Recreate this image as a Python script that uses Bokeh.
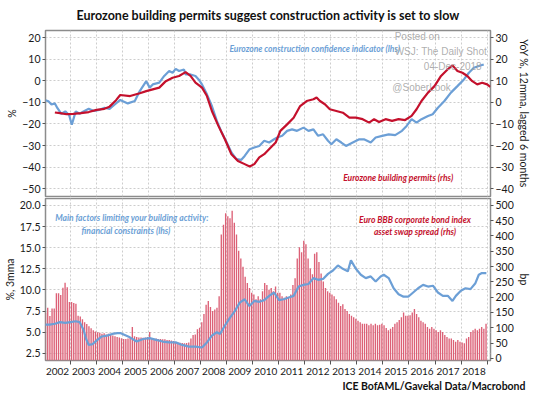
from bokeh.plotting import figure
from bokeh.layouts import column
from bokeh.models import (Range1d, LinearAxis, FixedTicker, CustomJSTickFormatter,
                          Label, NumeralTickFormatter, Title)
from bokeh.embed import file_html
from bokeh.resources import INLINE

# ---------------- data ----------------
year_labels = list(range(2002, 2019))
year_bounds = list(range(2002, 2020))

# Eurozone construction confidence indicator (lhs, %)
conf_dates = [2002.04, 2002.15, 2002.27, 2002.40, 2002.50, 2002.65, 2002.80, 2002.95, 2003.05,
              2003.20, 2003.35, 2003.50, 2003.70, 2003.90, 2004.10, 2004.30, 2004.50, 2004.70,
              2004.91, 2005.20, 2005.47, 2005.66, 2005.91, 2006.04, 2006.16, 2006.41, 2006.60,
              2006.79, 2006.92, 2007.04, 2007.17, 2007.36, 2007.42, 2007.61, 2007.80, 2007.92,
              2008.05, 2008.24, 2008.43, 2008.62, 2008.81, 2009.00, 2009.18, 2009.37, 2009.56,
              2009.69, 2009.88, 2010.06, 2010.25, 2010.44, 2010.63, 2010.82, 2010.94, 2011.13,
              2011.32, 2011.51, 2011.70, 2011.95, 2012.14, 2012.33, 2012.51, 2012.70, 2012.89,
              2013.02, 2013.21, 2013.40, 2013.58, 2013.84, 2014.09, 2014.27, 2014.53, 2014.72,
              2014.97, 2015.22, 2015.47, 2015.73, 2015.91, 2016.10, 2016.29, 2016.48, 2016.73,
              2016.91, 2017.11, 2017.36, 2017.61, 2017.86, 2018.11, 2018.30, 2018.49, 2018.68,
              2018.87]
conf_vals = [-9.0, -9.5, -11.0, -10.5, -12.7, -15.3, -14.2, -16.0, -20.4,
             -14.2, -15.3, -14.2, -13.0, -14.0, -13.5, -12.5, -13.0, -11.0,
             -8.9, -10.5, -9.4, -4.8, -0.2, -3.2, -1.7, -0.9, 2.2,
             4.5, 3.7, 5.5, 4.5, 5.2, 2.9, 2.9, 2.2, 0.6,
             -1.7, -6.3, -11.7, -18.6, -24.0, -28.6, -33.2, -36.3, -36.6,
             -34.8, -31.7, -30.9, -30.2, -27.8, -28.6, -27.1, -26.3, -25.5,
             -23.2, -22.5, -23.2, -21.7, -23.2, -22.5, -25.5, -24.8, -27.8,
             -29.4, -27.1, -28.6, -30.2, -28.6, -27.1, -27.1, -28.6, -26.3,
             -25.5, -24.8, -25.2, -23.2, -20.9, -17.8, -19.4, -17.8, -16.3,
             -15.5, -12.5, -9.4, -5.5, -2.5, 0.6, 3.7, 6.0, 6.8,
             7.5]

# Eurozone building permits (rhs, YoY %, 12mma, lagged 6 months)
perm_dates = [2002.40, 2002.60, 2002.85, 2003.10, 2003.40, 2003.70, 2004.00, 2004.30, 2004.50,
              2004.75, 2004.91, 2005.29, 2005.66, 2005.91, 2006.16, 2006.41, 2006.66, 2006.92,
              2007.17, 2007.42, 2007.61, 2007.80, 2008.05, 2008.24, 2008.43, 2008.68, 2008.93,
              2009.18, 2009.43, 2009.69, 2009.88, 2010.06, 2010.25, 2010.44, 2010.69, 2010.88,
              2011.06, 2011.32, 2011.57, 2011.82, 2012.07, 2012.33, 2012.45, 2012.58, 2012.77,
              2012.96, 2013.21, 2013.46, 2013.71, 2013.96, 2014.22, 2014.47, 2014.66, 2014.85,
              2015.10, 2015.35, 2015.60, 2015.85, 2016.10, 2016.29, 2016.48, 2016.73, 2016.98,
              2017.23, 2017.48, 2017.67, 2017.86, 2018.05, 2018.24, 2018.43, 2018.62, 2018.81,
              2019.00, 2019.12]
perm_vals = [-4.7, -5.0, -5.5, -5.3, -5.0, -4.5, -3.5, -3.0, -2.0,
             1.0, 3.4, 2.9, 4.2, 5.2, 6.0, 6.8, 9.8, 11.4,
             12.2, 14.0, 12.2, 9.1, 6.8, 2.9, -4.0, -10.9, -17.1,
             -24.0, -27.1, -28.6, -29.7, -28.6, -25.5, -24.0, -20.9, -18.6,
             -13.2, -10.2, -7.1, -1.7, 0.6, 1.4, 2.2, 0.6, -0.9,
             -3.2, -4.0, -4.8, -7.1, -7.1, -7.8, -9.4, -7.8, -9.1,
             -7.8, -8.6, -7.8, -8.2, -6.3, -3.2, 0.6, 4.5, 7.5,
             12.2, 15.2, 17.1, 14.5, 13.7, 12.2, 9.8, 8.3, 9.1,
             8.3, 7.2]

# Euro BBB corporate bond index asset swap spread (rhs, bp), monthly Jan 2002 - Dec 2018
spread_2002 = [149, 165, 138, 163, 163, 213, 213, 207, 231, 247, 232, 184]
spread_2003 = [184, 181, 178, 139, 137, 128, 118, 112, 105, 98, 92, 88]
spread_2004 = [85, 84, 80, 82, 78, 80, 76, 75, 72, 70, 68, 66]
spread_2005 = [63, 63, 65, 70, 102, 72, 70, 68, 68, 67, 68, 70]
spread_2006 = [86, 66, 64, 65, 63, 63, 62, 62, 60, 60, 58, 57]
spread_2007 = [53, 52, 51, 50, 49, 50, 52, 65, 76, 78, 95, 100]
spread_2008 = [118, 145, 175, 187, 168, 155, 160, 165, 203, 405, 437, 474]
spread_2009 = [464, 458, 482, 443, 405, 352, 326, 299, 267, 246, 230, 214]
spread_2010 = [209, 193, 203, 193, 219, 246, 240, 224, 230, 219, 235, 214]
spread_2011 = [214, 203, 198, 203, 198, 209, 240, 262, 326, 363, 347, 384]
spread_2012 = [373, 326, 294, 275, 342, 347, 315, 277, 251, 230, 219, 214]
spread_2013 = [209, 203, 193, 182, 171, 177, 161, 155, 145, 139, 134, 129]
spread_2014 = [123, 118, 113, 113, 113, 108, 113, 108, 113, 108, 110, 113]
spread_2015 = [108, 99, 92, 97, 102, 113, 118, 125, 134, 150, 139, 139]
spread_2016 = [141, 150, 161, 145, 134, 123, 118, 113, 102, 97, 102, 97]
spread_2017 = [92, 86, 92, 86, 76, 70, 65, 65, 60, 54, 60, 54]
spread_2018 = [52, 49, 65, 70, 86, 92, 97, 92, 97, 102, 97, 113]

# Main factors limiting building activity: financial constraints (lhs, %, 3mma)
fin_dates = [2002.00, 2002.20, 2002.40, 2002.60, 2002.80, 2003.00, 2003.20, 2003.35, 2003.50,
             2003.60, 2003.70, 2003.85, 2004.00, 2004.20, 2004.40, 2004.60, 2004.80, 2004.91,
             2005.28, 2005.54, 2005.79, 2006.04, 2006.29, 2006.54, 2006.79, 2007.04, 2007.29,
             2007.55, 2007.80, 2008.05, 2008.24, 2008.43, 2008.62, 2008.74, 2008.93, 2009.12,
             2009.31, 2009.50, 2009.69, 2009.87, 2010.06, 2010.25, 2010.44, 2010.63, 2010.82,
             2011.01, 2011.19, 2011.38, 2011.57, 2011.76, 2011.95, 2012.14, 2012.33, 2012.51,
             2012.70, 2012.89, 2013.08, 2013.27, 2013.46, 2013.65, 2013.77, 2013.96, 2014.15,
             2014.34, 2014.53, 2014.72, 2014.91, 2015.03, 2015.22, 2015.41, 2015.60, 2015.79,
             2015.97, 2016.16, 2016.35, 2016.54, 2016.73, 2016.92, 2017.11, 2017.30, 2017.49,
             2017.67, 2017.80, 2017.99, 2018.17, 2018.36, 2018.55, 2018.68, 2018.80, 2018.97]
fin_vals = [5.9, 5.9, 6.0, 6.2, 6.1, 6.2, 6.3, 6.2, 5.3,
            4.2, 3.5, 3.6, 4.0, 4.5, 4.6, 4.8, 4.9, 4.9,
            4.4, 3.9, 4.2, 4.3, 4.1, 3.9, 3.8, 3.8, 3.5,
            3.3, 3.3, 3.2, 3.8, 4.6, 5.0, 4.8, 5.8, 6.7,
            7.5, 8.5, 8.9, 8.1, 8.7, 8.6, 8.8, 9.3, 9.7,
            8.8, 8.9, 9.1, 9.3, 10.4, 10.6, 10.7, 11.4, 11.2,
            11.3, 11.9, 12.3, 12.9, 12.5, 12.2, 13.5, 12.5, 11.8,
            11.4, 11.6, 11.0, 11.6, 11.8, 11.4, 10.2, 9.5, 9.2,
            9.2, 9.7, 10.2, 10.6, 10.4, 10.5, 9.7, 9.3, 9.3,
            8.7, 9.3, 9.9, 10.2, 10.1, 10.8, 11.8, 12.0, 12.0]

top_left_ticks = [-50, -40, -30, -20, -10, 0, 10, 20]
top_right_ticks = [-40, -30, -20, -10, 0, 10, 20, 30]
bot_left_ticks = [2.5, 5.0, 7.5, 10.0, 12.5, 15.0, 17.5, 20.0]
bot_right_ticks = [0, 50, 100, 150, 200, 250, 300, 350, 400, 450, 500]

spread_vals = (spread_2002 + spread_2003 + spread_2004 + spread_2005 + spread_2006 +
               spread_2007 + spread_2008 + spread_2009 + spread_2010 + spread_2011 +
               spread_2012 + spread_2013 + spread_2014 + spread_2015 + spread_2016 +
               spread_2017 + spread_2018)
spread_dates = [2002 + (m + 0.5) / 12.0 for m in range(len(spread_vals))]

# ---------------- style ----------------
FONT = "Lato"
WFONT = "Liberation Sans"
BLUE = "#6c9fd6"
RED = "#c4102c"
BAR = "#dc6076"
GRID = "#cdcdcd"
FRAME = "#8c8c8c"
TXT = "#1a1a1a"
WM = "#a0a0a0"

X0, X1 = 2002.04, 2019.13
W = 532
LB, RB = 42, 37
TL0, TL1 = -53.58, 23.24
TR0, TR1 = -43.58, 33.24
BL0, BL1 = 1.66, 20.81
BR0, BR1 = -7.1, 522.4


def style_axis(ax, label_size="10.5px"):
    ax.axis_line_color = None
    ax.major_tick_line_color = "#555555"
    ax.major_tick_out = 3
    ax.major_tick_in = 0
    ax.minor_tick_line_color = None
    ax.major_label_text_font = FONT
    ax.major_label_text_font_size = label_size
    ax.major_label_text_color = TXT
    ax.major_label_standoff = 2
    ax.axis_label_text_font = FONT
    ax.axis_label_text_font_size = "10.5px"
    ax.axis_label_text_font_style = "normal"
    ax.axis_label_text_color = TXT
    ax.axis_label_standoff = 1


def style_fig(p):
    p.outline_line_color = FRAME
    p.outline_line_width = 1.5
    p.background_fill_color = "white"
    p.border_fill_color = "white"
    p.xgrid.ticker = FixedTicker(ticks=year_bounds)
    for g in (p.xgrid, p.ygrid):
        g.grid_line_color = GRID
        g.grid_line_dash = "2 2"
        g.grid_line_width = 1


def lab(p, x, y, text, color, size, style="bold italic", align="center", font=FONT,
        rng="default", alpha=1.0):
    p.add_layout(Label(x=x, y=y, text=text, text_color=color, text_font_size=size,
                       text_font_style=style, text_align=align, text_baseline="middle",
                       text_font=font, y_range_name=rng, text_alpha=alpha))


# ---------------- top panel ----------------
p1 = figure(width=W, height=197, x_range=Range1d(X0, X1), y_range=Range1d(TL0, TL1),
            output_backend="svg", toolbar_location=None,
            min_border_left=LB, min_border_right=RB, min_border_top=30, min_border_bottom=1)
p1.extra_y_ranges = {"r": Range1d(TR0, TR1)}
p1.xaxis.visible = False
style_fig(p1)
p1.title.text = "Eurozone building permits suggest construction activity is set to slow"
p1.title.align = "center"
p1.title.text_font = FONT
p1.title.text_font_size = "12.5px"
p1.title.text_font_style = "bold"
p1.title.text_color = "#111111"
p1.title.vertical_align = "top"
p1.title.standoff = 12

p1.yaxis.ticker = FixedTicker(ticks=top_left_ticks)
p1.ygrid.ticker = FixedTicker(ticks=top_left_ticks)
p1.yaxis.axis_label = "%"
style_axis(p1.yaxis[0])
rax1 = LinearAxis(y_range_name="r", ticker=FixedTicker(ticks=top_right_ticks),
                  axis_label="YoY %, 12mma, lagged 6 months")
style_axis(rax1)
p1.add_layout(rax1, "right")

p1.line(conf_dates, conf_vals, line_color=BLUE, line_width=2.2)
p1.line(perm_dates, perm_vals, line_color=RED, line_width=2.2, y_range_name="r")

lab(p1, 2012.38, 14.8, "Eurozone construction confidence indicator (lhs)", BLUE, "8.5px")
lab(p1, 2015.62, -45.2, "Eurozone building permits  (rhs)", RED, "8.5px")
lab(p1, 2015.45, 20.6, "Posted on", WM, "10px", style="normal", align="left",
    font=WFONT, alpha=0.85)
lab(p1, 2015.45, 13.4, "WSJ: The Daily Shot", WM, "10px", style="normal",
    align="left", font=WFONT, alpha=0.85)
lab(p1, 2016.57, 6.4, "04-Dec-2018", WM, "10px", style="normal", align="left",
    font=WFONT, alpha=0.85)
lab(p1, 2015.36, -3.3, "@SoberLook", WM, "10px", style="normal", align="left",
    font=WFONT, alpha=0.85)

# ---------------- bottom panel ----------------
p2 = figure(width=W, height=194, x_range=p1.x_range, y_range=Range1d(BL0, BL1),
            output_backend="svg", toolbar_location=None,
            min_border_left=LB, min_border_right=RB, min_border_top=1, min_border_bottom=27)
p2.extra_y_ranges = {"r": Range1d(BR0, BR1)}
style_fig(p2)
p2.yaxis.ticker = FixedTicker(ticks=bot_left_ticks)
p2.ygrid.ticker = FixedTicker(ticks=bot_left_ticks)
p2.yaxis.formatter = NumeralTickFormatter(format="0.0")
p2.yaxis.axis_label = "%, 3mma"
style_axis(p2.yaxis[0])
rax2 = LinearAxis(y_range_name="r", ticker=FixedTicker(ticks=bot_right_ticks), axis_label="bp")
style_axis(rax2)
p2.add_layout(rax2, "right")

xa = p2.xaxis[0]
xa.ticker = FixedTicker(ticks=[y + 0.5 for y in year_labels], minor_ticks=year_bounds)
xa.formatter = CustomJSTickFormatter(code="return Math.floor(tick).toFixed(0);")
style_axis(xa, label_size="10px")
xa.major_tick_line_color = None
xa.major_tick_out = 0
xa.minor_tick_line_color = "#555555"
xa.minor_tick_out = 4
xa.minor_tick_in = 0
xa.major_label_standoff = 3

p2.vbar(x=spread_dates, top=spread_vals, bottom=BR0, width=0.052, y_range_name="r",
        fill_color=BAR, line_color=None)
p2.line(fin_dates, fin_vals, line_color=BLUE, line_width=2.2)

lab(p2, 2005.36, 18.47, "Main factors limiting your building activity:", BLUE, "8.5px")
lab(p2, 2005.13, 16.92, "financial constraints (lhs)", BLUE, "8.5px")
lab(p2, 2016.23, 18.27, "Euro BBB corporate bond index", RED, "8.5px")
lab(p2, 2016.23, 16.85, "asset swap spread (rhs)", RED, "8.5px")

src = Title(text="ICE BofAML/Gavekal Data/Macrobond", align="right", offset=-35,
            text_font=FONT, text_font_size="10.5px", text_font_style="bold",
            text_color="#111111", standoff=0)
p2.add_layout(src, "below")

layout = column(p1, p2, spacing=0)
open("out.html", "w").write(file_html(layout, INLINE))
